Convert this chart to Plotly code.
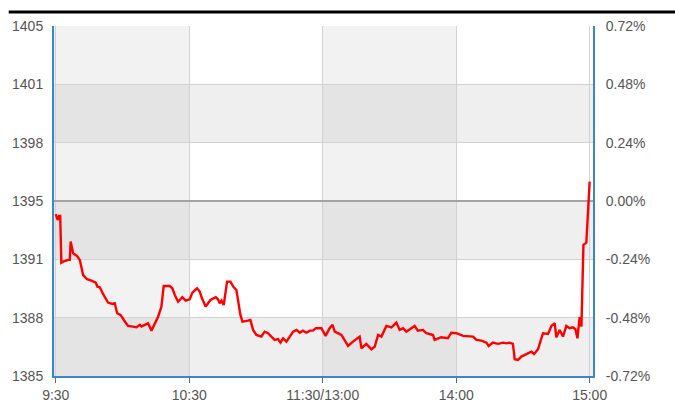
import plotly.graph_objects as go

# ---------------- data ----------------
base_price = 1395.0
pct_ticks = [0.72, 0.48, 0.24, 0.00, -0.24, -0.48, -0.72]
left_tick_labels = ["1405", "1401", "1398", "1395", "1391", "1388", "1385"]
right_tick_labels = ["0.72%", "0.48%", "0.24%", "0.00%", "-0.24%", "-0.48%", "-0.72%"]

x_tick_minutes = [0, 60, 120, 180, 240]
x_tick_labels = ["9:30", "10:30", "11:30/13:00", "14:00", "15:00"]

minutes = [0, 0.8, 1.5, 2, 2.5, 3.3, 5.5, 6.3, 6.7, 7.8, 9.6, 10.8, 12.3, 14.1, 16, 18, 18.7, 19.8,
           21.3, 23.5, 25.5, 26.5, 27.6, 29.1, 30.6, 32.5, 34.7, 36.3, 37.8, 38.5, 40, 41.5, 43, 44,
           46, 47.5, 48.5, 51.2, 52.4, 53.5, 55, 56.9, 58.4, 60.2, 61.4, 63.5, 64.7, 65.9, 67.4,
           69.5, 71.9, 72.9, 73.7, 74.5, 75.5, 77, 78.5, 80, 81.2, 83, 83.9, 86.4, 87.5, 88.7,
           90.2, 92.4, 93.9, 95.4, 96.9, 98.4, 99.9, 101, 102.2, 103.7, 105.2, 106.7, 108.2, 109.7,
           111.1, 112.7, 114.2, 115.6, 116.9, 119.4,
           121.3, 123.1, 124.4, 125.4, 128.4, 131.4, 133.6, 136.6, 137.4, 139.6, 141.9, 143.4,
           144.9, 146.4, 148.6, 150.9, 153.1, 154.6, 156.1, 157.6, 161.3, 162.8, 165.1, 166.6,
           169.6, 170.3, 173.3, 176.3, 177.8, 180.1, 183.1, 185.3, 187.6, 189.1, 191.3, 193.6,
           194.6, 196.5, 198.8, 201, 202.6, 204, 205.5, 206.3, 207.8, 209.3, 211.5, 213.8, 215,
           216.8, 219, 221.3, 222.8, 224.3, 225, 226.5, 228, 229.5, 231, 232.5, 233.6, 234.5,
           235.5, 236.3, 237.2, 238.5, 240]

prices = [1394.25, 1393.91, 1394.14, 1394.14, 1391.46, 1391.52, 1391.62, 1391.62, 1392.67, 1392.00,
          1391.84, 1391.62, 1390.75, 1390.51, 1390.43, 1390.31, 1390.08, 1390.05,
          1389.65, 1389.17, 1389.09, 1389.13, 1388.56, 1388.46, 1388.17, 1387.83, 1387.79, 1387.75,
          1387.89, 1387.79, 1387.89, 1387.98, 1387.56, 1387.83,
          1388.36, 1388.94, 1390.12, 1390.12, 1389.99, 1389.61, 1389.22, 1389.48, 1389.28, 1389.36,
          1389.74, 1389.99, 1389.80, 1389.36, 1388.94,
          1389.32, 1389.48, 1389.36, 1389.13, 1389.28, 1389.03, 1390.37, 1390.37, 1390.05, 1389.89,
          1388.46, 1388.08, 1388.13, 1388.17, 1387.60,
          1387.31, 1387.22, 1387.50, 1387.41, 1387.22, 1387.03, 1387.07, 1386.87, 1387.12, 1386.93,
          1387.22, 1387.50, 1387.60, 1387.44,
          1387.56, 1387.44, 1387.56, 1387.56, 1387.70, 1387.70,
          1387.26, 1387.70, 1387.89, 1387.50, 1387.31, 1386.68, 1386.93, 1387.22, 1386.55, 1386.80,
          1386.49, 1386.64,
          1387.31, 1387.22, 1387.83, 1387.75, 1388.02, 1387.60, 1387.70, 1387.50, 1387.83, 1387.56,
          1387.60, 1387.41,
          1387.31, 1387.03, 1387.18, 1387.12, 1387.44, 1387.41, 1387.26, 1387.22, 1387.22, 1387.03,
          1386.99, 1386.87,
          1386.68, 1386.87, 1386.80, 1386.87, 1386.83, 1386.87, 1386.80, 1385.92, 1385.88, 1386.07,
          1386.22, 1386.35, 1386.22,
          1386.49, 1387.41, 1387.37, 1387.83, 1387.98, 1387.18, 1387.60, 1387.22, 1387.83, 1387.70,
          1387.75, 1387.64, 1387.12,
          1388.33, 1387.79, 1392.48, 1392.61, 1396.11]

# ---------------- styling ----------------
FONT = "Arial, Liberation Sans, sans-serif"
TICK_COLOR = "#555555"
AXIS_BLUE = "#3a86c8"
GRID = "#d2d2d2"
light_row = ["#f2f2f2", "#ffffff"]
dark_row = ["#e4e4e4", "#efefef"]

y_tick_vals = [base_price * (1 + p / 100) for p in pct_ticks]
y_lo, y_hi = min(y_tick_vals), max(y_tick_vals)
x_lo, x_hi = -0.8, 241.5

fig = go.Figure()
# previous-close reference line (0.00%)
fig.add_trace(go.Scatter(x=[x_lo, x_hi], y=[base_price, base_price], mode="lines",
                         line=dict(color="#a3a3a3", width=2), hoverinfo="skip",
                         showlegend=False))
fig.add_trace(go.Scatter(x=minutes, y=prices, mode="lines",
                         line=dict(color="#ff0000", width=2.4), hoverinfo="skip",
                         showlegend=False))
fig.add_trace(go.Scatter(x=minutes, y=prices, mode="lines", yaxis="y2",
                         line=dict(color="rgba(0,0,0,0)", width=0), hoverinfo="skip",
                         showlegend=False))

# checkerboard background cells from tick grid
shapes = []
ys_sorted = sorted(y_tick_vals, reverse=True)
n_cols = len(x_tick_minutes) - 1
for r in range(len(ys_sorted) - 1):
    for c in range(n_cols):
        palette = light_row if r % 2 == 0 else dark_row
        shapes.append(dict(type="rect", xref="x", yref="y",
                           x0=x_lo if c == 0 else x_tick_minutes[c],
                           x1=x_hi if c == n_cols - 1 else x_tick_minutes[c + 1],
                           y0=ys_sorted[r + 1], y1=ys_sorted[r],
                           fillcolor=palette[c % 2],
                           line=dict(width=0), layer="below"))
# top black rule
shapes.append(dict(type="line", xref="paper", yref="paper", x0=-0.084, x1=1.16, y0=1.04, y1=1.04,
                   line=dict(color="#000000", width=3)))

fig.update_layout(
    width=675, height=406,
    margin=dict(l=54, r=82, t=26, b=30, autoexpand=False),
    paper_bgcolor="#ffffff", plot_bgcolor="rgba(0,0,0,0)",
    font=dict(family=FONT, size=14, color=TICK_COLOR),
    shapes=shapes,
    showlegend=False,
    xaxis=dict(range=[x_lo, x_hi], tickvals=x_tick_minutes, ticktext=x_tick_labels,
               showgrid=True, gridcolor=GRID, gridwidth=1, zeroline=False, automargin=False,
               showline=True, linecolor=AXIS_BLUE, linewidth=2,
               ticks="outside", ticklen=5, tickcolor="#666666", tickwidth=1,
               tickfont=dict(family=FONT, size=14, color=TICK_COLOR)),
    yaxis=dict(range=[y_lo, y_hi], tickvals=y_tick_vals, ticktext=left_tick_labels,
               showgrid=True, gridcolor=GRID, gridwidth=1, zeroline=False, automargin=False,
               showline=True, linecolor=AXIS_BLUE, linewidth=2, mirror=False,
               ticks="", ticklabelstandoff=6,
               tickfont=dict(family=FONT, size=14, color=TICK_COLOR)),
    yaxis2=dict(range=[y_lo, y_hi], tickvals=y_tick_vals, ticktext=right_tick_labels,
                overlaying="y", side="right", showgrid=False, zeroline=False, automargin=False,
                showline=True, linecolor=AXIS_BLUE, linewidth=2,
                ticks="", ticklabelstandoff=8,
                tickfont=dict(family=FONT, size=14, color=TICK_COLOR)),
)

fig.write_html("out.html", config={"displayModeBar": False},
               post_script="document.body.style.margin='0';")
